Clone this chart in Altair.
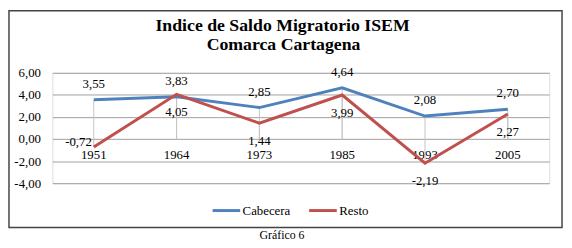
import altair as alt
import pandas as pd

years = ["1951", "1964", "1973", "1985", "1993", "2005"]
cabecera = [3.55, 3.83, 2.85, 4.64, 2.08, 2.70]
resto = [-0.72, 4.05, 1.44, 3.99, -2.19, 2.27]
series = ["Cabecera", "Resto"]
colors = ["#4F81BD", "#C0504D"]
title_lines = ["Indice de Saldo Migratorio ISEM", "Comarca Cartagena"]
caption = "Gráfico 6"
y_ticks = [-4, -2, 0, 2, 4, 6]

rows = []
for i, yr in enumerate(years):
    rows.append({"year": yr, "serie": "Cabecera", "v": cabecera[i]})
    rows.append({"year": yr, "serie": "Resto", "v": resto[i]})
df = pd.DataFrame(rows)

SERIF = "'Times New Roman', 'Liberation Serif', serif"
FMT = "replace(replace(format(datum.v, '.2f'), '.', ','), '\u2212', '-')"
AXFMT = "replace(replace(format(datum.value, '.2f'), '.', ','), '\u2212', '-')"

x_enc = alt.X(
    "year:O", sort=years,
    scale=alt.Scale(paddingInner=0, paddingOuter=0),
    axis=alt.Axis(title=None, labelAngle=0, domain=False, ticks=False, grid=False,
                  offset=-45, labelPadding=10, labelFont=SERIF, labelFontSize=13,
                  labelColor="#000000"),
)
y_enc = alt.Y(
    "v:Q", scale=alt.Scale(domain=[-4, 6], nice=False),
    axis=alt.Axis(title=None, values=y_ticks, domain=False, ticks=False,
                  gridColor="#A0A0A0", gridWidth=1, labelPadding=12,
                  labelFont=SERIF, labelFontSize=13, labelColor="#000000",
                  labelExpr=AXFMT),
)

base = alt.Chart(df)

drops = base.mark_rule(color="#C4C4C4", strokeWidth=1).encode(
    x=x_enc, y=y_enc, y2=alt.datum(0)
)

lines = base.mark_line(strokeWidth=3).encode(
    x=x_enc, y=y_enc,
    color=alt.Color("serie:N", scale=alt.Scale(domain=series, range=colors),
                    legend=alt.Legend(title=None, orient="none", legendX=161, legendY=124,
                                      direction="horizontal", symbolType="stroke",
                                      symbolStrokeWidth=3, symbolSize=784,
                                      labelFont=SERIF, labelFontSize=13, labelColor="#000000",
                                      labelOffset=1, columnPadding=12, padding=0)),
)

lab_cab = base.transform_filter("datum.serie == 'Cabecera'").transform_calculate(
    lbl=FMT).mark_text(font=SERIF, fontSize=13, dy=-16, baseline="middle").encode(
    x=x_enc, y=y_enc, text="lbl:N")

lab_res = base.transform_filter("datum.serie == 'Resto' && datum.year != '1951'").transform_calculate(
    lbl=FMT).mark_text(font=SERIF, fontSize=13, dy=18, baseline="middle").encode(
    x=x_enc, y=y_enc, text="lbl:N")

lab_res0 = base.transform_filter("datum.serie == 'Resto' && datum.year == '1951'").transform_calculate(
    lbl=FMT).mark_text(font=SERIF, fontSize=13, dx=-2, dy=-5, align="right",
                       baseline="middle").encode(x=x_enc, y=y_enc, text="lbl:N")

t1 = alt.Chart(pd.DataFrame({"t": [title_lines[0]]})).mark_text(
    font=SERIF, fontSize=18, fontWeight="bold", align="center", baseline="alphabetic"
).encode(text="t:N", x=alt.value(233.5), y=alt.value(-42))
t2 = alt.Chart(pd.DataFrame({"t": [title_lines[1]]})).mark_text(
    font=SERIF, fontSize=18, fontWeight="bold", align="center", baseline="alphabetic"
).encode(text="t:N", x=alt.value(234.5), y=alt.value(-23))

cap = alt.Chart(pd.DataFrame({"t": [caption]})).mark_text(
    font=SERIF, fontSize=12, align="center", baseline="middle"
).encode(text="t:N", x=alt.value(233), y=alt.value(165))

frame = alt.Chart(pd.DataFrame({"t": [0]})).mark_rect(
    fill=None, stroke="#444444", strokeWidth=1.5
).encode(x=alt.value(-44), x2=alt.value(517), y=alt.value(-63), y2=alt.value(157))

chart = alt.layer(drops, lines, lab_cab, lab_res, lab_res0, t1, t2, cap, frame).properties(
    width=504, height=112,
    autosize=alt.AutoSizeParams(type="none"),
    padding={"left": 45, "top": 64, "right": 15, "bottom": 64},
).configure_view(stroke=None).configure(background="white")

chart.save("out.html", embed_options={"renderer": "svg", "actions": False})
